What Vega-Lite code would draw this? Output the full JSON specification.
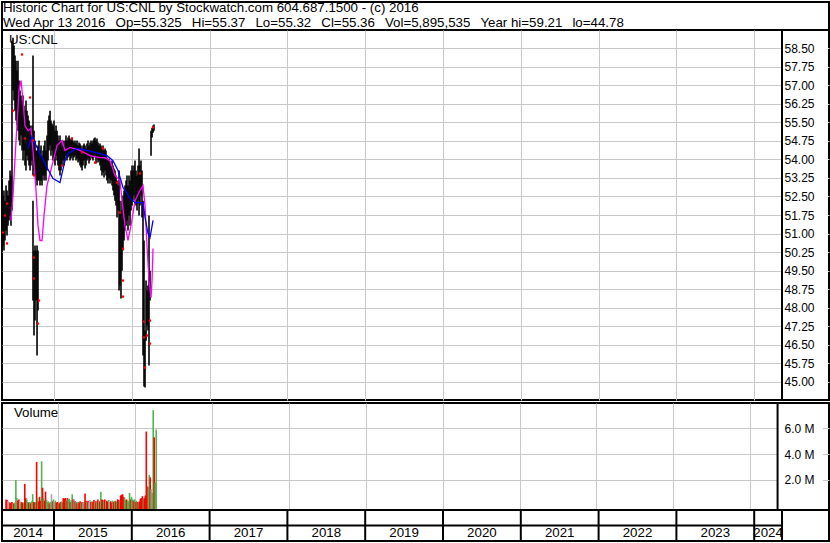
{
  "$schema": "https://vega.github.io/schema/vega-lite/v6.json",
  "padding": 0,
  "autosize": {"type": "pad"},
  "background": "white",
  "config": {
    "view": {"stroke": "#000000", "strokeWidth": 2},
    "font": "Liberation Sans",
    "axis": {"gridColor": "#c8c8c8", "gridWidth": 1, "gridOpacity": 1, "labelFont": "Liberation Sans", "labelFontSize": 12, "labelColor": "#000000"},
    "text": {"font": "Liberation Sans", "fontSize": 13.3, "color": "#000000"}
  },
  "datasets": {
    "header": [
      {"row": 1, "text": "Historic Chart for US:CNL by Stockwatch.com 604.687.1500 - (c) 2016"},
      {"row": 2, "text": "Wed Apr 13 2016\u00a0\u00a0\u2009Op=55.325\u00a0\u00a0\u2009Hi=55.37\u00a0\u00a0\u2009Lo=55.32\u00a0\u00a0\u2009Cl=55.36\u00a0\u00a0\u2009Vol=5,895,535\u00a0\u00a0\u2009Year hi=59.21\u00a0\u00a0\u2009lo=44.78"}
    ],
    "price": [
      {"t":2014.332,"hi":52.94,"lo":50.92},{"t":2014.345,"hi":52.54,"lo":50.52},{"t":2014.357,"hi":52.74,"lo":50.31},{"t":2014.370,"hi":52.33,"lo":50.72},
      {"t":2014.383,"hi":52.94,"lo":51.12},{"t":2014.396,"hi":52.74,"lo":50.92},{"t":2014.409,"hi":52.54,"lo":51.32},{"t":2014.422,"hi":53.14,"lo":51.53},
      {"t":2014.435,"hi":53.55,"lo":51.73},{"t":2014.447,"hi":53.35,"lo":51.32},{"t":2014.460,"hi":58.80,"lo":51.93},{"t":2014.473,"hi":58.92,"lo":56.78},
      {"t":2014.486,"hi":58.60,"lo":56.38},{"t":2014.499,"hi":58.20,"lo":55.97},{"t":2014.512,"hi":57.99,"lo":55.57},{"t":2014.525,"hi":57.59,"lo":55.37},
      {"t":2014.537,"hi":57.99,"lo":55.16},{"t":2014.550,"hi":57.19,"lo":54.76},{"t":2014.563,"hi":56.78,"lo":54.56},{"t":2014.576,"hi":56.58,"lo":54.96},
      {"t":2014.589,"hi":56.38,"lo":54.36},{"t":2014.602,"hi":56.58,"lo":53.95},{"t":2014.614,"hi":56.17,"lo":54.36},{"t":2014.627,"hi":55.97,"lo":53.75},
      {"t":2014.640,"hi":56.38,"lo":53.55},{"t":2014.653,"hi":55.97,"lo":54.15},{"t":2014.666,"hi":55.77,"lo":53.95},{"t":2014.679,"hi":55.57,"lo":53.75},
      {"t":2014.692,"hi":55.37,"lo":53.55},{"t":2014.704,"hi":55.16,"lo":53.75},{"t":2014.717,"hi":55.37,"lo":53.95},
      {"t":2014.730,"hi":58.20,"lo":53.35},{"t":2014.730,"hi":52.33,"lo":48.29},
      {"t":2014.743,"hi":55.16,"lo":53.55},{"t":2014.743,"hi":50.31,"lo":46.88},
      {"t":2014.756,"hi":54.76,"lo":53.35},{"t":2014.756,"hi":50.52,"lo":47.48},
      {"t":2014.769,"hi":54.36,"lo":53.14},{"t":2014.769,"hi":50.31,"lo":48.29},
      {"t":2014.782,"hi":54.36,"lo":52.94},{"t":2014.782,"hi":50.52,"lo":46.07},
      {"t":2014.794,"hi":54.56,"lo":53.14},{"t":2014.794,"hi":50.31,"lo":47.89},
      {"t":2014.807,"hi":54.76,"lo":53.14},{"t":2014.820,"hi":54.36,"lo":52.94},{"t":2014.833,"hi":54.56,"lo":53.14},{"t":2014.846,"hi":54.15,"lo":52.94},
      {"t":2014.859,"hi":54.36,"lo":53.35},{"t":2014.872,"hi":54.56,"lo":53.14},{"t":2014.884,"hi":54.76,"lo":53.35},{"t":2014.897,"hi":54.36,"lo":53.14},
      {"t":2014.910,"hi":54.96,"lo":53.55},{"t":2014.923,"hi":55.57,"lo":53.95},{"t":2014.936,"hi":55.77,"lo":54.36},{"t":2014.949,"hi":55.97,"lo":54.56},
      {"t":2014.961,"hi":55.57,"lo":54.15},{"t":2014.974,"hi":55.45,"lo":54.36},{"t":2014.987,"hi":55.37,"lo":53.95},{"t":2015.000,"hi":55.57,"lo":53.95},
      {"t":2015.013,"hi":55.16,"lo":53.75},{"t":2015.026,"hi":55.37,"lo":54.15},{"t":2015.039,"hi":55.16,"lo":53.95},{"t":2015.051,"hi":54.96,"lo":53.75},
      {"t":2015.064,"hi":54.76,"lo":53.55},{"t":2015.077,"hi":54.96,"lo":53.35},{"t":2015.090,"hi":54.76,"lo":53.55},{"t":2015.103,"hi":54.56,"lo":53.75},
      {"t":2015.116,"hi":54.76,"lo":53.95},{"t":2015.129,"hi":54.56,"lo":53.75},{"t":2015.141,"hi":54.76,"lo":53.95},{"t":2015.154,"hi":54.96,"lo":54.15},
      {"t":2015.167,"hi":54.76,"lo":53.95},{"t":2015.180,"hi":54.88,"lo":54.07},{"t":2015.193,"hi":54.96,"lo":54.15},{"t":2015.206,"hi":54.84,"lo":53.95},
      {"t":2015.219,"hi":54.76,"lo":54.03},{"t":2015.231,"hi":54.88,"lo":54.15},{"t":2015.244,"hi":54.76,"lo":53.95},{"t":2015.257,"hi":54.68,"lo":54.07},
      {"t":2015.270,"hi":54.76,"lo":54.15},{"t":2015.283,"hi":54.64,"lo":53.95},{"t":2015.296,"hi":54.76,"lo":54.03},{"t":2015.309,"hi":54.56,"lo":53.87},
      {"t":2015.321,"hi":54.68,"lo":53.95},{"t":2015.334,"hi":54.64,"lo":53.75},{"t":2015.347,"hi":54.56,"lo":53.67},{"t":2015.360,"hi":54.44,"lo":53.55},
      {"t":2015.373,"hi":54.56,"lo":53.75},{"t":2015.386,"hi":54.64,"lo":53.95},{"t":2015.399,"hi":54.56,"lo":53.63},{"t":2015.411,"hi":54.44,"lo":53.75},
      {"t":2015.424,"hi":54.64,"lo":53.95},{"t":2015.437,"hi":54.76,"lo":54.03},{"t":2015.450,"hi":54.56,"lo":53.83},{"t":2015.463,"hi":54.68,"lo":53.95},
      {"t":2015.476,"hi":54.76,"lo":54.15},{"t":2015.489,"hi":54.64,"lo":54.03},{"t":2015.501,"hi":54.76,"lo":53.95},{"t":2015.514,"hi":54.84,"lo":54.07},
      {"t":2015.527,"hi":54.88,"lo":54.15},{"t":2015.540,"hi":54.76,"lo":53.83},{"t":2015.553,"hi":54.84,"lo":54.03},{"t":2015.566,"hi":54.68,"lo":53.87},
      {"t":2015.578,"hi":54.56,"lo":53.95},{"t":2015.591,"hi":54.64,"lo":53.75},{"t":2015.604,"hi":54.56,"lo":53.55},{"t":2015.617,"hi":54.44,"lo":53.35},
      {"t":2015.630,"hi":54.56,"lo":53.47},{"t":2015.643,"hi":54.36,"lo":53.27},{"t":2015.656,"hi":54.44,"lo":53.55},{"t":2015.668,"hi":54.36,"lo":53.35},
      {"t":2015.681,"hi":54.07,"lo":53.14},{"t":2015.694,"hi":53.95,"lo":53.02},{"t":2015.707,"hi":54.03,"lo":53.23},{"t":2015.720,"hi":53.87,"lo":53.02},
      {"t":2015.733,"hi":53.75,"lo":53.14},{"t":2015.746,"hi":53.95,"lo":52.94},{"t":2015.758,"hi":53.75,"lo":52.74},{"t":2015.771,"hi":53.63,"lo":52.54},
      {"t":2015.784,"hi":53.55,"lo":52.33},{"t":2015.797,"hi":53.35,"lo":52.13},{"t":2015.810,"hi":53.14,"lo":51.65},{"t":2015.823,"hi":52.94,"lo":51.93},
      {"t":2015.836,"hi":53.55,"lo":48.70},{"t":2015.848,"hi":52.33,"lo":48.90},{"t":2015.861,"hi":51.93,"lo":48.37},{"t":2015.874,"hi":52.33,"lo":49.50},
      {"t":2015.887,"hi":52.54,"lo":50.31},{"t":2015.900,"hi":52.74,"lo":50.72},{"t":2015.913,"hi":52.94,"lo":51.12},{"t":2015.926,"hi":53.14,"lo":51.32},
      {"t":2015.938,"hi":53.35,"lo":51.53},{"t":2015.951,"hi":52.94,"lo":51.12},{"t":2015.964,"hi":53.35,"lo":51.73},{"t":2015.977,"hi":53.14,"lo":51.32},
      {"t":2015.990,"hi":53.55,"lo":51.93},{"t":2016.003,"hi":53.75,"lo":52.13},{"t":2016.015,"hi":53.55,"lo":52.33},{"t":2016.028,"hi":53.75,"lo":52.54},
      {"t":2016.041,"hi":53.95,"lo":52.33},{"t":2016.054,"hi":53.55,"lo":52.13},{"t":2016.067,"hi":53.35,"lo":51.93},{"t":2016.080,"hi":53.75,"lo":52.33},
      {"t":2016.093,"hi":54.44,"lo":51.73},{"t":2016.105,"hi":53.75,"lo":52.13},{"t":2016.118,"hi":53.95,"lo":52.54},{"t":2016.131,"hi":53.55,"lo":51.65},
      {"t":2016.144,"hi":52.33,"lo":46.07},{"t":2016.157,"hi":50.72,"lo":44.82},{"t":2016.170,"hi":47.08,"lo":44.78},{"t":2016.183,"hi":49.10,"lo":46.67},
      {"t":2016.195,"hi":48.70,"lo":47.28},{"t":2016.208,"hi":48.90,"lo":47.08},{"t":2016.221,"hi":51.73,"lo":45.66},{"t":2016.234,"hi":49.50,"lo":48.29},
      {"t":2016.247,"hi":55.16,"lo":54.15},{"t":2016.260,"hi":55.28,"lo":54.88},{"t":2016.273,"hi":55.37,"lo":55.08},{"t":2016.285,"hi":55.41,"lo":55.16}
    ],
    "dots": [
      {"t":2014.589,"p":58.24},{"t":2014.473,"p":55.97},{"t":2014.692,"p":56.50},{"t":2014.627,"p":54.84},{"t":2014.730,"p":54.76},
      {"t":2014.743,"p":53.35},{"t":2015.103,"p":53.75},{"t":2015.231,"p":54.84},{"t":2015.360,"p":54.28},{"t":2015.527,"p":53.87},
      {"t":2015.630,"p":54.44},{"t":2015.810,"p":53.06},{"t":2015.848,"p":51.85},{"t":2016.105,"p":53.43},{"t":2016.273,"p":55.29},
      {"t":2014.370,"p":51.73},{"t":2014.396,"p":52.21},{"t":2014.345,"p":51.04},{"t":2014.396,"p":50.60},{"t":2014.743,"p":50.03},
      {"t":2014.743,"p":49.18},{"t":2014.807,"p":48.29},{"t":2014.794,"p":47.36},{"t":2015.887,"p":50.39},{"t":2015.887,"p":49.10},
      {"t":2015.887,"p":48.45},{"t":2016.157,"p":47.44},{"t":2016.157,"p":46.80},{"t":2016.195,"p":46.88},{"t":2016.234,"p":47.48},
      {"t":2016.234,"p":46.55},{"t":2016.170,"p":45.58}
    ],
    "fast": [
      {"t":2014.447,"v":51.53},{"t":2014.473,"v":52.54},{"t":2014.512,"v":54.76},{"t":2014.550,"v":56.78},
      {"t":2014.576,"v":57.19},{"t":2014.602,"v":56.38},{"t":2014.627,"v":55.37},{"t":2014.666,"v":55.16},
      {"t":2014.704,"v":55.25},{"t":2014.730,"v":54.36},{"t":2014.769,"v":52.74},{"t":2014.794,"v":51.32},
      {"t":2014.820,"v":50.72},{"t":2014.846,"v":50.72},{"t":2014.872,"v":51.73},{"t":2014.910,"v":52.94},
      {"t":2014.974,"v":53.75},{"t":2015.039,"v":54.56},{"t":2015.103,"v":54.76},{"t":2015.141,"v":54.36},
      {"t":2015.206,"v":54.48},{"t":2015.334,"v":54.36},{"t":2015.463,"v":54.15},{"t":2015.591,"v":54.07},
      {"t":2015.656,"v":54.07},{"t":2015.720,"v":53.95},{"t":2015.784,"v":53.35},{"t":2015.848,"v":53.14},
      {"t":2015.874,"v":52.33},{"t":2015.913,"v":51.32},{"t":2015.951,"v":50.72},{"t":2015.990,"v":51.32},
      {"t":2016.041,"v":52.33},{"t":2016.105,"v":52.74},{"t":2016.144,"v":52.94},{"t":2016.170,"v":52.13},
      {"t":2016.195,"v":50.52},{"t":2016.221,"v":49.10},{"t":2016.247,"v":48.41},{"t":2016.260,"v":49.10},
      {"t":2016.273,"v":50.39}
    ],
    "slow": [
      {"t":2014.666,"v":54.44},{"t":2014.717,"v":54.92},{"t":2014.782,"v":54.48},{"t":2014.846,"v":54.07},
      {"t":2014.910,"v":53.67},{"t":2014.987,"v":53.22},{"t":2015.077,"v":53.06},{"t":2015.103,"v":53.43},
      {"t":2015.141,"v":53.95},{"t":2015.180,"v":54.23},{"t":2015.296,"v":54.44},{"t":2015.424,"v":54.36},
      {"t":2015.591,"v":54.23},{"t":2015.681,"v":54.15},{"t":2015.758,"v":53.95},{"t":2015.823,"v":53.55},
      {"t":2015.887,"v":52.86},{"t":2015.977,"v":52.42},{"t":2016.041,"v":52.25},{"t":2016.144,"v":52.25},
      {"t":2016.170,"v":51.65},{"t":2016.208,"v":51.00},{"t":2016.234,"v":50.84},{"t":2016.273,"v":51.53}
    ],
    "volume": [
      {"t":2014.319,"v":500000,"d":"down"},{"t":2014.332,"v":450000,"d":"down"},{"t":2014.345,"v":350000,"d":"flat"},{"t":2014.357,"v":300000,"d":"flat"},
      {"t":2014.370,"v":250000,"d":"down"},{"t":2014.383,"v":200000,"d":"down"},{"t":2014.396,"v":300000,"d":"down"},{"t":2014.409,"v":150000,"d":"up"},
      {"t":2014.422,"v":200000,"d":"down"},{"t":2014.435,"v":250000,"d":"up"},{"t":2014.447,"v":2000000,"d":"up"},{"t":2014.460,"v":600000,"d":"up"},
      {"t":2014.473,"v":400000,"d":"down"},{"t":2014.486,"v":500000,"d":"down"},{"t":2014.499,"v":350000,"d":"flat"},{"t":2014.512,"v":250000,"d":"up"},
      {"t":2014.525,"v":300000,"d":"down"},{"t":2014.537,"v":200000,"d":"down"},{"t":2014.550,"v":250000,"d":"up"},{"t":2014.563,"v":1700000,"d":"down"},
      {"t":2014.576,"v":600000,"d":"down"},{"t":2014.589,"v":500000,"d":"up"},{"t":2014.602,"v":300000,"d":"up"},{"t":2014.614,"v":250000,"d":"down"},
      {"t":2014.627,"v":300000,"d":"up"},{"t":2014.640,"v":200000,"d":"down"},{"t":2014.653,"v":350000,"d":"up"},{"t":2014.666,"v":900000,"d":"up"},
      {"t":2014.679,"v":300000,"d":"down"},{"t":2014.692,"v":250000,"d":"down"},{"t":2014.704,"v":300000,"d":"up"},{"t":2014.717,"v":3400000,"d":"down"},
      {"t":2014.730,"v":600000,"d":"up"},{"t":2014.743,"v":350000,"d":"down"},{"t":2014.756,"v":700000,"d":"down"},{"t":2014.769,"v":400000,"d":"down"},
      {"t":2014.782,"v":3450000,"d":"up"},{"t":2014.794,"v":1400000,"d":"down"},{"t":2014.807,"v":600000,"d":"up"},{"t":2014.820,"v":400000,"d":"down"},
      {"t":2014.833,"v":1100000,"d":"down"},{"t":2014.846,"v":450000,"d":"up"},{"t":2014.859,"v":300000,"d":"up"},{"t":2014.872,"v":350000,"d":"up"},
      {"t":2014.884,"v":200000,"d":"down"},{"t":2014.897,"v":300000,"d":"up"},{"t":2014.910,"v":900000,"d":"flat"},{"t":2014.923,"v":350000,"d":"down"},
      {"t":2014.936,"v":500000,"d":"up"},{"t":2014.949,"v":300000,"d":"flat"},{"t":2014.961,"v":400000,"d":"up"},{"t":2014.974,"v":250000,"d":"down"},
      {"t":2014.987,"v":300000,"d":"down"},{"t":2015.000,"v":150000,"d":"up"},{"t":2015.013,"v":200000,"d":"down"},{"t":2015.026,"v":300000,"d":"down"},
      {"t":2015.039,"v":350000,"d":"up"},{"t":2015.051,"v":250000,"d":"up"},{"t":2015.064,"v":600000,"d":"down"},{"t":2015.077,"v":550000,"d":"down"},
      {"t":2015.090,"v":600000,"d":"down"},{"t":2015.103,"v":400000,"d":"up"},{"t":2015.116,"v":600000,"d":"down"},{"t":2015.129,"v":500000,"d":"up"},
      {"t":2015.141,"v":550000,"d":"up"},{"t":2015.154,"v":300000,"d":"down"},{"t":2015.167,"v":450000,"d":"up"},{"t":2015.180,"v":900000,"d":"up"},
      {"t":2015.193,"v":500000,"d":"down"},{"t":2015.206,"v":500000,"d":"flat"},{"t":2015.219,"v":350000,"d":"down"},{"t":2015.231,"v":300000,"d":"up"},
      {"t":2015.244,"v":200000,"d":"down"},{"t":2015.257,"v":300000,"d":"up"},{"t":2015.270,"v":250000,"d":"down"},{"t":2015.283,"v":350000,"d":"down"},
      {"t":2015.296,"v":200000,"d":"up"},{"t":2015.309,"v":300000,"d":"down"},{"t":2015.321,"v":250000,"d":"flat"},{"t":2015.334,"v":300000,"d":"up"},
      {"t":2015.347,"v":950000,"d":"down"},{"t":2015.360,"v":400000,"d":"down"},{"t":2015.373,"v":300000,"d":"up"},{"t":2015.386,"v":400000,"d":"down"},
      {"t":2015.399,"v":250000,"d":"flat"},{"t":2015.411,"v":450000,"d":"flat"},{"t":2015.424,"v":300000,"d":"down"},{"t":2015.437,"v":350000,"d":"up"},
      {"t":2015.450,"v":300000,"d":"down"},{"t":2015.463,"v":450000,"d":"down"},{"t":2015.476,"v":250000,"d":"up"},{"t":2015.489,"v":350000,"d":"down"},
      {"t":2015.501,"v":300000,"d":"up"},{"t":2015.514,"v":500000,"d":"down"},{"t":2015.527,"v":300000,"d":"up"},{"t":2015.540,"v":350000,"d":"down"},
      {"t":2015.553,"v":1100000,"d":"up"},{"t":2015.566,"v":500000,"d":"down"},{"t":2015.578,"v":450000,"d":"down"},{"t":2015.591,"v":350000,"d":"up"},
      {"t":2015.604,"v":500000,"d":"down"},{"t":2015.617,"v":300000,"d":"up"},{"t":2015.630,"v":400000,"d":"down"},{"t":2015.643,"v":300000,"d":"down"},
      {"t":2015.656,"v":450000,"d":"up"},{"t":2015.668,"v":300000,"d":"flat"},{"t":2015.681,"v":350000,"d":"down"},{"t":2015.694,"v":250000,"d":"down"},
      {"t":2015.707,"v":400000,"d":"up"},{"t":2015.720,"v":300000,"d":"down"},{"t":2015.733,"v":400000,"d":"up"},{"t":2015.746,"v":350000,"d":"down"},
      {"t":2015.758,"v":300000,"d":"up"},{"t":2015.771,"v":500000,"d":"down"},{"t":2015.784,"v":450000,"d":"down"},{"t":2015.797,"v":350000,"d":"up"},
      {"t":2015.810,"v":800000,"d":"down"},{"t":2015.823,"v":850000,"d":"down"},{"t":2015.836,"v":900000,"d":"down"},{"t":2015.848,"v":700000,"d":"down"},
      {"t":2015.861,"v":650000,"d":"up"},{"t":2015.874,"v":450000,"d":"up"},{"t":2015.887,"v":500000,"d":"down"},{"t":2015.900,"v":400000,"d":"up"},
      {"t":2015.913,"v":350000,"d":"up"},{"t":2015.926,"v":1000000,"d":"up"},{"t":2015.938,"v":500000,"d":"down"},{"t":2015.951,"v":700000,"d":"up"},
      {"t":2015.964,"v":500000,"d":"up"},{"t":2015.977,"v":400000,"d":"down"},{"t":2015.990,"v":500000,"d":"up"},{"t":2016.003,"v":300000,"d":"down"},
      {"t":2016.015,"v":400000,"d":"up"},{"t":2016.028,"v":300000,"d":"down"},{"t":2016.041,"v":250000,"d":"up"},{"t":2016.054,"v":350000,"d":"down"},
      {"t":2016.067,"v":550000,"d":"down"},{"t":2016.080,"v":600000,"d":"down"},{"t":2016.093,"v":750000,"d":"down"},{"t":2016.105,"v":500000,"d":"up"},
      {"t":2016.118,"v":600000,"d":"down"},{"t":2016.131,"v":800000,"d":"down"},{"t":2016.144,"v":5750000,"d":"down"},{"t":2016.157,"v":1500000,"d":"down"},
      {"t":2016.170,"v":1450000,"d":"up"},{"t":2016.183,"v":2400000,"d":"up"},{"t":2016.195,"v":2200000,"d":"down"},{"t":2016.208,"v":1300000,"d":"flat"},
      {"t":2016.221,"v":1000000,"d":"up"},{"t":2016.234,"v":7400000,"d":"up"},{"t":2016.247,"v":5300000,"d":"down"},{"t":2016.260,"v":1800000,"d":"up"},
      {"t":2016.273,"v":5900000,"d":"up"}
    ],
    "years": [
      {"year":"2014","start":2014.3316,"mid":2014.666},{"year":"2015","start":2015,"mid":2015.5},{"year":"2016","start":2016,"mid":2016.5},
      {"year":"2017","start":2017,"mid":2017.5},{"year":"2018","start":2018,"mid":2018.5},{"year":"2019","start":2019,"mid":2019.5},
      {"year":"2020","start":2020,"mid":2020.5},{"year":"2021","start":2021,"mid":2021.5},{"year":"2022","start":2022,"mid":2022.5},
      {"year":"2023","start":2023,"mid":2023.5},{"year":"2024","start":2024,"mid":2024.1787}
    ]
  },
  "resolve": {"scale": {"color": "independent"}},
  "spacing": -1,
  "vconcat": [
    {
      "spacing": 0,
      "bounds": "flush",
      "vconcat": [
        {
          "width": 827, "height": 28,
          "data": {"name": "header"},
          "mark": {"type": "text", "align": "left", "baseline": "alphabetic"},
          "encoding": {
            "x": {"datum": 2014.3445, "type": "quantitative", "scale": {"domain": [2014.3316, 2024.9614], "nice": false, "zero": false}, "axis": null},
            "y": {"field": "row", "type": "quantitative", "scale": {"domain": [0.3333, 2.2], "reverse": true, "nice": false, "zero": false}, "axis": null},
            "text": {"field": "text"}
          }
        },
        {
          "width": 827, "height": 370,
          "resolve": {"axis": {"y": "independent"}},
          "layer": [
            {
              "data": {"name": "price"},
              "mark": {"type": "rule", "color": "#000000", "strokeWidth": 1.6},
              "encoding": {
                "x": {"field": "t", "type": "quantitative", "scale": {"domain": [2014.3316, 2024.9614], "nice": false, "zero": false},
                      "axis": {"values": [2015,2016,2017,2018,2019,2020,2021,2022,2023,2024], "grid": true, "labels": false, "ticks": false, "domain": false, "title": null}},
                "y": {"field": "lo", "type": "quantitative", "scale": {"domain": [44.27, 59.23], "nice": false, "zero": false},
                      "axis": {"orient": "left", "values": [45,45.75,46.5,47.25,48,48.75,49.5,50.25,51,51.75,52.5,53.25,54,54.75,55.5,56.25,57,57.75,58.5], "grid": true, "labels": false, "ticks": false, "domain": false, "title": null, "minExtent": 0, "maxExtent": 0}},
                "y2": {"field": "hi"}
              }
            },
            {
              "data": {"name": "fast"},
              "mark": {"type": "line", "strokeWidth": 1.3, "color": "#ff00ff"},
              "encoding": {
                "x": {"field": "t", "type": "quantitative"},
                "y": {"field": "v", "type": "quantitative", "axis": null}
              }
            },
            {
              "data": {"name": "slow"},
              "mark": {"type": "line", "strokeWidth": 1.3, "color": "#0000ff"},
              "encoding": {
                "x": {"field": "t", "type": "quantitative"},
                "y": {"field": "v", "type": "quantitative", "axis": null}
              }
            },
            {
              "data": {"name": "dots"},
              "mark": {"type": "square", "color": "#ff0000", "size": 5, "opacity": 1},
              "encoding": {
                "x": {"field": "t", "type": "quantitative"},
                "y": {"field": "p", "type": "quantitative", "axis": null}
              }
            },
            {
              "data": {"values": [{"label": "US:CNL"}]},
              "mark": {"type": "text", "align": "left", "baseline": "middle"},
              "encoding": {
                "x": {"datum": 2014.4216, "type": "quantitative"},
                "y": {"datum": 58.81, "type": "quantitative", "axis": null},
                "text": {"field": "label"}
              }
            },
            {
              "data": {"values": [{}]},
              "mark": {"type": "rect", "fill": "#ffffff"},
              "encoding": {
                "x": {"datum": 2024.3573, "type": "quantitative"},
                "x2": {"datum": 2024.9486},
                "y": {"datum": 59.18, "type": "quantitative",
                      "axis": {"orient": "right", "offset": -47, "values": [45,45.75,46.5,47.25,48,48.75,49.5,50.25,51,51.75,52.5,53.25,54,54.75,55.5,56.25,57,57.75,58.5], "format": ".2f", "grid": false, "ticks": false, "tickSize": 0, "domain": false, "labelPadding": 2, "title": null, "zindex": 1}},
                "y2": {"datum": 44.32}
              }
            },
            {
              "data": {"values": [{}]},
              "mark": {"type": "rule", "color": "#000000", "strokeWidth": 2},
              "encoding": {"x": {"datum": 2024.3573, "type": "quantitative"}}
            }
          ]
        }
      ]
    },
    {
      "spacing": 0,
      "bounds": "flush",
      "vconcat": [
        {
          "width": 827, "height": 107,
          "resolve": {"axis": {"y": "independent"}},
          "layer": [
            {
              "data": {"name": "volume"},
              "mark": {"type": "bar", "size": 1.6},
              "encoding": {
                "x": {"field": "t", "type": "quantitative", "scale": {"domain": [2014.3316, 2024.9614], "nice": false, "zero": false},
                      "axis": {"values": [2015,2016,2017,2018,2019,2020,2021,2022,2023,2024], "grid": true, "labels": false, "ticks": false, "domain": false, "title": null}},
                "y": {"field": "v", "type": "quantitative", "scale": {"domain": [-321000, 7957000], "nice": false, "zero": false},
                      "axis": {"orient": "left", "values": [2000000, 4000000, 6000000], "grid": true, "labels": false, "ticks": false, "domain": false, "title": null, "minExtent": 0, "maxExtent": 0}},
                "y2": {"datum": -321000},
                "color": {"field": "d", "type": "nominal", "scale": {"domain": ["up", "down", "flat"], "range": ["#50b450", "#ff0000", "#a8a8a8"]}, "legend": null}
              }
            },
            {
              "data": {"values": [{"label": "Volume"}]},
              "mark": {"type": "text", "align": "left", "baseline": "middle"},
              "encoding": {
                "x": {"datum": 2014.4216, "type": "quantitative"},
                "y": {"datum": 7222000, "type": "quantitative", "axis": null},
                "text": {"field": "label"}
              }
            },
            {
              "data": {"values": [{}]},
              "mark": {"type": "rect", "fill": "#ffffff"},
              "encoding": {
                "x": {"datum": 2024.3573, "type": "quantitative"},
                "x2": {"datum": 2024.9486},
                "y": {"datum": 7864000, "type": "quantitative",
                      "axis": {"orient": "right", "offset": -47, "values": [2000000, 4000000, 6000000], "labelExpr": "format(datum.value / 1000000, '.1f') + ' M'", "grid": false, "ticks": false, "tickSize": 0, "domain": false, "labelPadding": 2, "title": null, "zindex": 1}},
                "y2": {"datum": -228000}
              }
            },
            {
              "data": {"values": [{}]},
              "mark": {"type": "rule", "color": "#000000", "strokeWidth": 2},
              "encoding": {"x": {"datum": 2024.3573, "type": "quantitative"}}
            }
          ]
        },
        {
          "width": 827, "height": 31,
          "layer": [
            {
              "data": {"name": "years"},
              "mark": {"type": "rule", "color": "#000000", "strokeWidth": 2},
              "encoding": {
                "x": {"field": "start", "type": "quantitative", "scale": {"domain": [2014.3316, 2024.9614], "nice": false, "zero": false}, "axis": null}
              }
            },
            {
              "data": {"values": [{}]},
              "mark": {"type": "rule", "color": "#000000", "strokeWidth": 2},
              "encoding": {
                "x": {"datum": 2014.3316, "type": "quantitative"},
                "x2": {"datum": 2024.3573},
                "y": {"datum": 1, "type": "quantitative", "scale": {"domain": [0, 2], "nice": false}, "axis": null}
              }
            },
            {
              "data": {"values": [{}]},
              "mark": {"type": "rule", "color": "#000000", "strokeWidth": 2},
              "encoding": {"x": {"datum": 2024.3573, "type": "quantitative"}}
            },
            {
              "data": {"name": "years"},
              "mark": {"type": "text", "baseline": "middle", "align": "center"},
              "encoding": {
                "x": {"field": "mid", "type": "quantitative"},
                "y": {"datum": 0.5, "type": "quantitative"},
                "text": {"field": "year"}
              }
            }
          ]
        }
      ]
    }
  ]
}
